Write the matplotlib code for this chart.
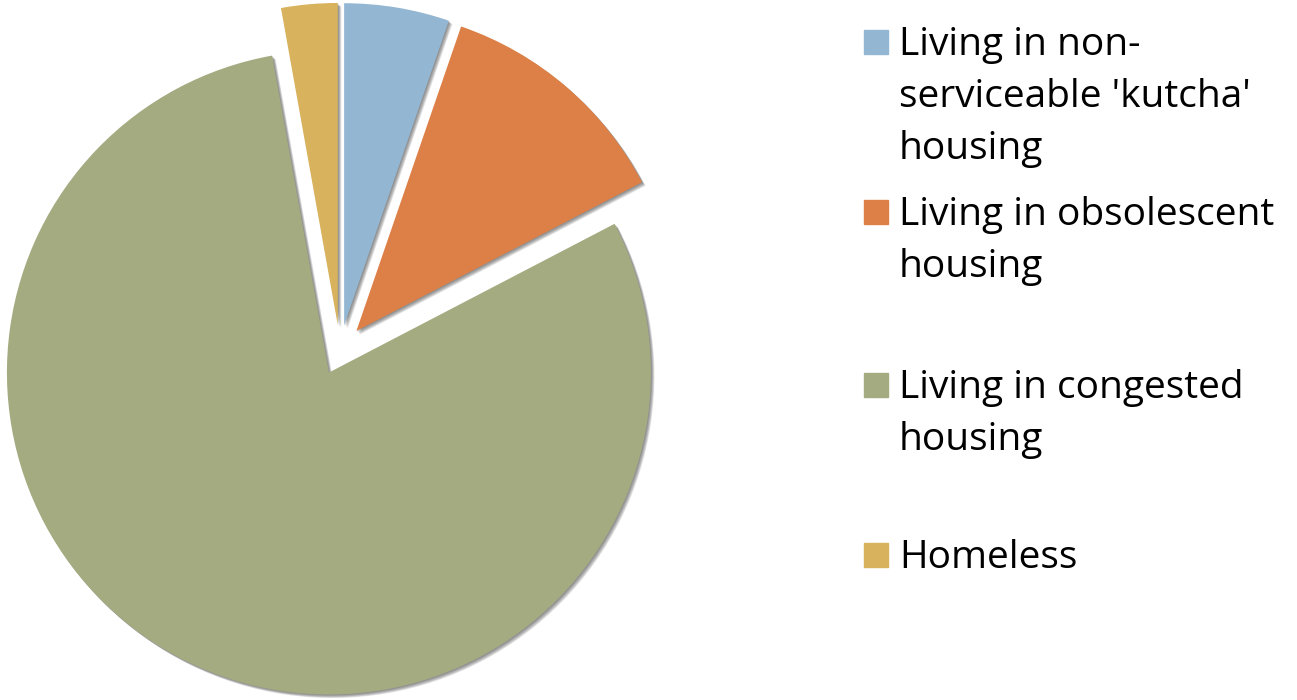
import matplotlib.pyplot as plt
import matplotlib.patheffects as pe
from matplotlib.patches import Rectangle

# data: urban housing shortage (millions)
labels = ["Living in non-\nserviceable 'kutcha'\nhousing",
          "Living in obsolescent\nhousing",
          "Living in congested\nhousing",
          "Homeless"]
values = [0.99, 2.27, 14.99, 0.53]
colors = ['#93b6d3', '#dd8047', '#a5ab81', '#d8b25c']

plt.rcParams['font.family'] = ['Open Sans', 'DejaVu Sans']

W, H = 1297, 700
fig = plt.figure(figsize=(W / 100, H / 100), dpi=100)

# pie axes: centre at pixel (340, 350), radius 322 px
cx, cy, r = 340, 350, 322
ax = fig.add_axes([0, 0, 680 / W, 1])
# soft drop shadow, faked with a few stacked offset copies
shadow = [pe.SimplePatchShadow(offset=(o, -o), shadow_rgbFace='#444444', alpha=0.16)
          for o in (0.5, 1.0, 1.5, 2.0, 2.5)] + [pe.Normal()]
wedges, _ = ax.pie(values, colors=colors, startangle=90, counterclock=False,
                   explode=[0.078] * 4,
                   wedgeprops=dict(linewidth=0, path_effects=shadow))
ax.set_aspect('auto')
ax.set_xlim(-cx / r, (680 - cx) / r)
ax.set_ylim(-(H - cy) / r, cy / r)
ax.axis('off')

# legend drawn by hand to keep the uneven spacing
first_base = [55, 225, 398, 568]
line_gap = 52
for lab, col, yb in zip(labels, colors, first_base):
    fig.patches.append(Rectangle((864 / W, 1 - (yb - 1) / H), 24 / W, 24 / H,
                                 transform=fig.transFigure, color=col))
    for i, line in enumerate(lab.split('\n')):
        fig.text(899 / W, 1 - (yb + i * line_gap) / H, line, fontsize=28,
                 va='baseline', ha='left', color='black')

plt.savefig('out.png', dpi=100)
